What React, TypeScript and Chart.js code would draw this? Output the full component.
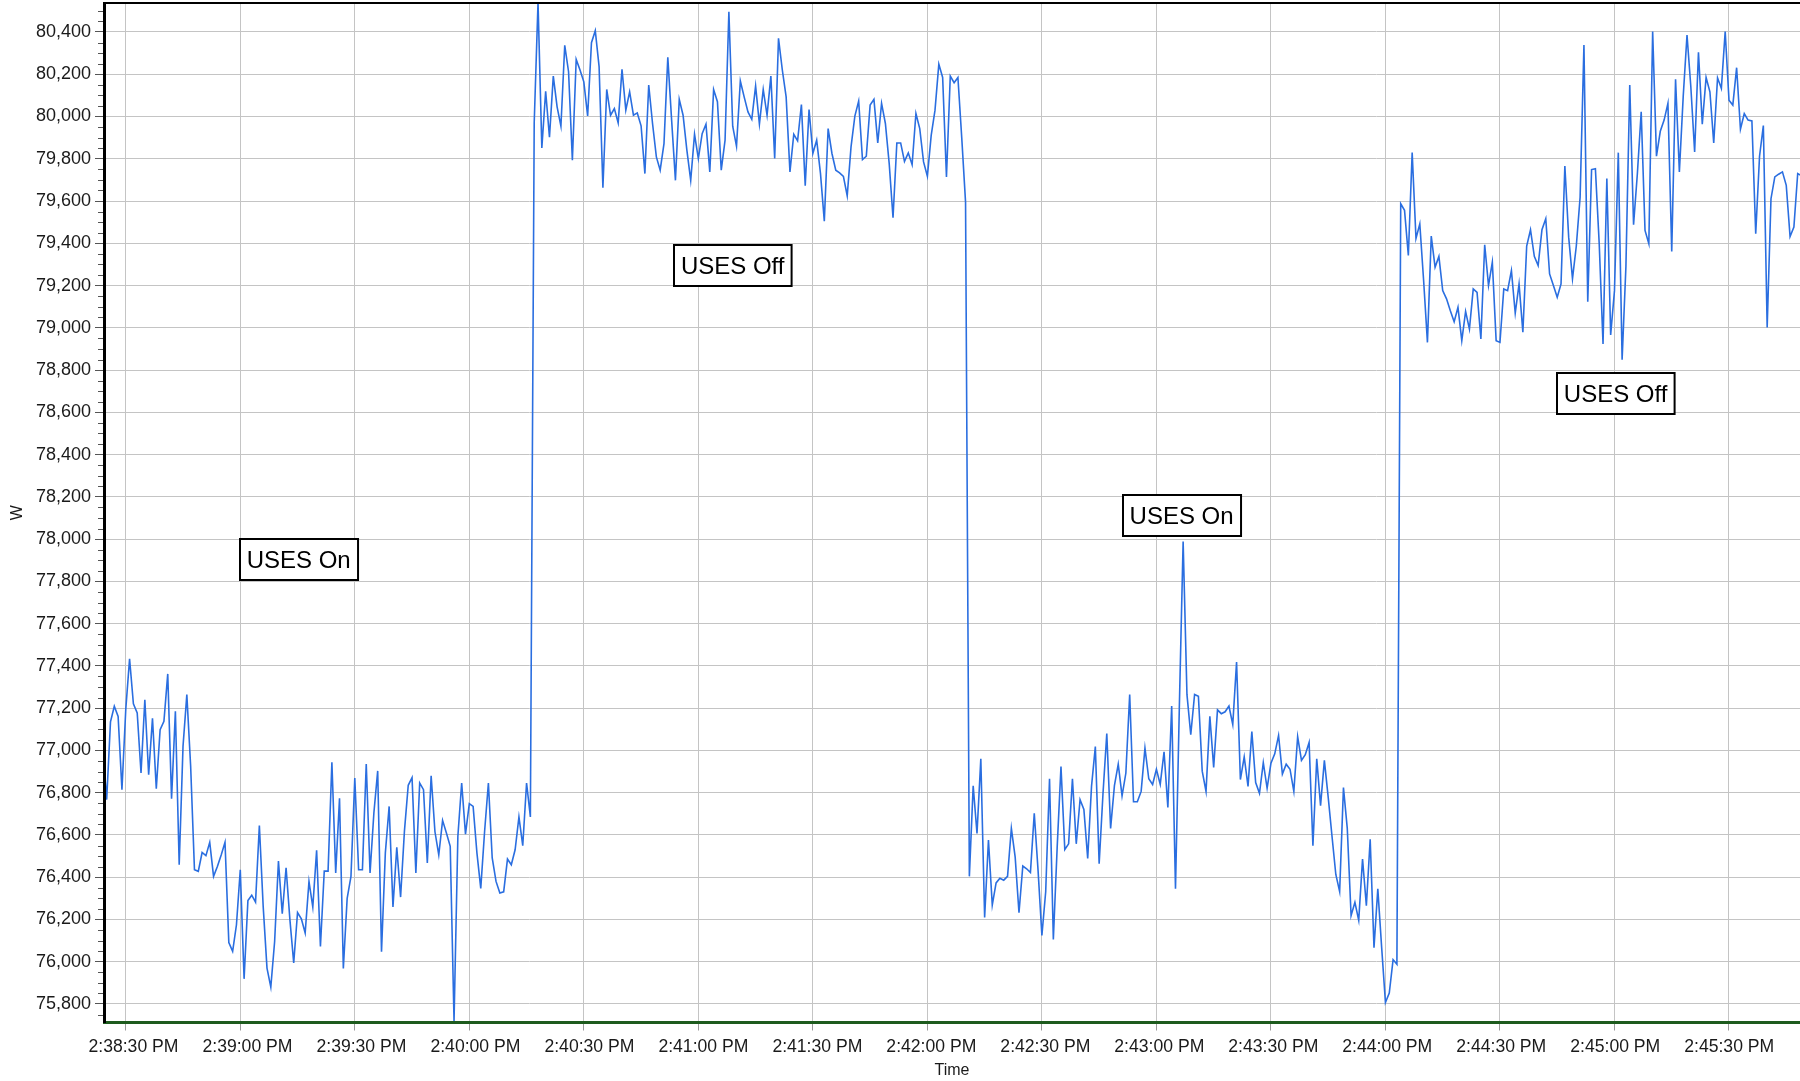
import React, { useEffect, useRef } from "react";
import { Chart, registerables } from "chart.js";

Chart.register(...registerables);

// ---- data -------------------------------------------------------------
// samples are one second apart, the first one at 2:38:24 PM (seconds since midnight)
const startSeconds = 52704;
const sampleStepSeconds = 1;

const powerW: number[] = [
  77000, 76767, 77135, 77209, 77161, 76814, 77193, 77434, 77221, 77177,
  76893, 77240, 76885, 77152, 76819, 77098, 77138, 77362, 76772, 77185,
  76459, 77019, 77264, 76925, 76435, 76428, 76517, 76502, 76565, 76404,
  76451, 76505, 76565, 76091, 76049, 76175, 76435, 75919, 76290, 76315,
  76282, 76645, 76262, 75970, 75880, 76096, 76476, 76227, 76445, 76199,
  75994, 76233, 76203, 76136, 76380, 76259, 76527, 76072, 76429, 76429,
  76944, 76420, 76773, 75968, 76300, 76404, 76869, 76435, 76435, 76936,
  76420, 76704, 76903, 76047, 76514, 76735, 76259, 76541, 76306, 76617,
  76835, 76871, 76420, 76846, 76814, 76467, 76880, 76615, 76506, 76669,
  76609, 76546, 75720, 76593, 76846, 76604, 76748, 76735, 76514, 76347,
  76615, 76846, 76491, 76380, 76325, 76331, 76486, 76459, 76530, 76685,
  76549, 76846, 76685, 79969, 80540, 79851, 80119, 79902, 80191, 80046,
  79954, 80337, 80212, 79793, 80270, 80220, 80164, 80003, 80349, 80406,
  80236, 79663, 80128, 80006, 80038, 79970, 80223, 80030, 80117, 80006,
  80017, 79956, 79730, 80149, 79967, 79809, 79746, 79872, 80280, 79983,
  79698, 80081, 80006, 79840, 79698, 79916, 79801, 79919, 79964, 79738,
  80128, 80070, 79746, 79888, 80496, 79954, 79859, 80168, 80093, 80022,
  79987, 80144, 79964, 80128, 80006, 80191, 79801, 80370, 80220, 80093,
  79738, 79916, 79885, 80057, 79673, 80033, 79825, 79888, 79730, 79505,
  79943, 79825, 79746, 79733, 79717, 79625, 79856, 80002, 80073, 79796,
  79812, 80054, 80081, 79875, 80062, 79967, 79777, 79521, 79875, 79875,
  79788, 79828, 79772, 80014, 79943, 79785, 79717, 79911, 80030, 80248,
  80185, 79714, 80191, 80160, 80185, 79900, 79595, 76404, 76833, 76607,
  76960, 76209, 76576, 76268, 76373, 76395, 76386, 76404, 76631, 76495,
  76232, 76453, 76440, 76422, 76703, 76431, 76124, 76332, 76866, 76105,
  76540, 76924, 76531, 76558, 76866, 76558, 76767, 76721, 76489, 76830,
  77018, 76464, 76794, 77080, 76631, 76833, 76935, 76785, 76893, 77265,
  76757, 76757, 76806, 77011, 76866, 76839, 76911, 76839, 76993, 76730,
  77210, 76345, 77200, 77989, 77265, 77074, 77265, 77256, 76902, 76806,
  77161, 76920, 77192, 77174, 77183, 77210, 77123, 77418, 76862, 76969,
  76830, 77089, 76848, 76797, 76942, 76821, 76939, 76984, 77071, 76888,
  76935, 76911, 76806, 77065, 76953, 76980, 77038, 76549, 76960, 76739,
  76953, 76779, 76594, 76413, 76332, 76824, 76631, 76218, 76281, 76196,
  76486, 76265, 76580, 76066, 76345, 76069, 75807, 75852, 76010, 75988,
  79587, 79556, 79342, 79829, 79423, 79492, 79224, 78931, 79434, 79287,
  79338, 79176, 79137, 79081, 79029, 79097, 78939, 79078, 78994, 79184,
  79168, 78947, 79393, 79200, 79311, 78939, 78931, 79184, 79176, 79271,
  79069, 79208, 78979, 79387, 79464, 79338, 79295, 79464, 79516, 79255,
  79200, 79145, 79208, 79766, 79429, 79232, 79387, 79619, 80338, 79124,
  79749, 79753, 79398, 78923, 79706, 78966, 79176, 79829, 78849, 79292,
  80149, 79488, 79730, 80022, 79461, 79398, 80402, 79812, 79930, 79983,
  80062, 79361, 80176, 79738, 80093, 80386, 80141, 79832, 80304, 79964,
  80185, 80117, 79875, 80183, 80133, 80402, 80077, 80054, 80231, 79940,
  80014, 79983, 79979, 79445, 79812, 79957, 79002, 79611, 79714, 79727,
  79738, 79674, 79432, 79477, 79730, 79720,
];

// axis ticks
const xTickSeconds = [
  52710, 52740, 52770, 52800, 52830, 52860, 52890, 52920,
  52950, 52980, 53010, 53040, 53070, 53100, 53130,
];
const yTickValues = [
  75800, 76000, 76200, 76400, 76600, 76800, 77000, 77200, 77400, 77600,
  77800, 78000, 78200, 78400, 78600, 78800, 79000, 79200, 79400, 79600,
  79800, 80000, 80200, 80400,
];
const yMinorStep = 50;

// visible window (grid axis) and the slightly different window the source used for its time labels
const xMin = 52704.3;
const xMax = 53148.6;
const xLabelMin = 52702.24;
const xLabelMax = 53148.63;
const yMin = 75712.4;
const yMax = 80537.2;

// annotation labels (anchored in data coordinates: time, watts)
const noteTexts = ["USES On", "USES Off", "USES On", "USES Off"];
const noteTimes = [52755.3, 52869.0, 52986.6, 53100.3];
const noteValues = [77904, 79296, 78110, 78690];

// ---- styling ------------------------------------------------------------
const FONT = '"Liberation Sans", Arial, Helvetica, sans-serif';
const LINE_COLOR = "#2a6ee0";
const GRID_COLOR = "#c4c4c4";
const TEXT_COLOR = "#1a1a1a";

function pad2(n: number) {
  return n < 10 ? "0" + n : String(n);
}
function formatClock(sec: number) {
  const s = Math.round(sec);
  const h24 = Math.floor(s / 3600);
  const m = Math.floor((s % 3600) / 60);
  const ss = s % 60;
  const h12 = h24 % 12 === 0 ? 12 : h24 % 12;
  return `${h12}:${pad2(m)}:${pad2(ss)} ${h24 >= 12 ? "PM" : "AM"}`;
}

const decorPlugin = {
  id: "decor",
  afterDraw(chart: any) {
    const { ctx, chartArea } = chart;
    const xs = chart.scales.x;
    const ys = chart.scales.y;
    ctx.save();
    // minor ticks on the value axis
    ctx.strokeStyle = "#555555";
    ctx.lineWidth = 1;
    const first = Math.ceil(yMin / yMinorStep) * yMinorStep;
    for (let v = first; v <= yMax; v += yMinorStep) {
      if (v % 200 === 0) continue;
      const py = Math.round(ys.getPixelForValue(v)) + 0.5;
      ctx.beginPath();
      ctx.moveTo(chartArea.left - 6, py);
      ctx.lineTo(chartArea.left - 1, py);
      ctx.stroke();
    }
    // top frame line
    ctx.strokeStyle = "#000000";
    ctx.lineWidth = 2;
    ctx.beginPath();
    ctx.moveTo(chartArea.left, chartArea.top);
    ctx.lineTo(chartArea.right, chartArea.top);
    ctx.stroke();

    // annotation boxes
    ctx.font = `24px ${FONT}`;
    ctx.textAlign = "center";
    ctx.textBaseline = "alphabetic";
    for (let i = 0; i < noteTexts.length; i++) {
      const cx = xs.getPixelForValue(noteTimes[i]);
      const cy = ys.getPixelForValue(noteValues[i]);
      const w = ctx.measureText(noteTexts[i]).width + 14;
      const h = 41;
      const x0 = Math.round(cx - w / 2);
      const y0 = Math.round(cy - h / 2);
      ctx.fillStyle = "#ffffff";
      ctx.fillRect(x0, y0, w, h);
      ctx.strokeStyle = "#000000";
      ctx.lineWidth = 2;
      ctx.strokeRect(x0, y0, w, h);
      ctx.fillStyle = "#000000";
      ctx.fillText(noteTexts[i], cx, cy + 8.6);
    }
    ctx.restore();
  },
};

export default function App() {
  const canvasRef = useRef<HTMLCanvasElement>(null);

  useEffect(() => {
    const canvas = canvasRef.current;
    if (!canvas) return;
    const points = powerW.map((v, i) => ({ x: startSeconds + i * sampleStepSeconds, y: v }));
    const chart = new Chart(canvas, {
      type: "line",
      data: {
        datasets: [
          {
            label: "W",
            data: points,
            xAxisID: "x",
            yAxisID: "y",
            borderColor: LINE_COLOR,
            borderWidth: 1.6,
            pointRadius: 0,
            tension: 0,
            fill: false,
          },
        ],
      },
      options: {
        responsive: false,
        animation: false,
        devicePixelRatio: 1,
        parsing: false as any,
        normalized: true,
        layout: { padding: { top: 3, left: 0, right: 0, bottom: 0 } },
        plugins: {
          legend: { display: false },
          tooltip: { enabled: false },
          title: { display: false },
        },
        scales: {
          // time axis: grid lines, tick marks and the axis line
          x: {
            type: "linear",
            position: "bottom",
            weight: 0,
            min: xMin,
            max: xMax,
            afterBuildTicks: (scale: any) => {
              scale.ticks = xTickSeconds.map((v) => ({ value: v }));
            },
            afterFit: (scale: any) => {
              scale.height = 0;
              scale.paddingLeft = 0;
              scale.paddingRight = 0;
            },
            ticks: { display: false, autoSkip: false, maxRotation: 0 },
            grid: {
              color: GRID_COLOR,
              lineWidth: 1,
              drawTicks: true,
              tickLength: 8,
              tickColor: "#9a9a9a",
            },
            border: { display: true, color: "#1e5b1e", width: 3, z: 1 },
            title: { display: false },
          },
          // time axis: labels and title
          xLabels: {
            type: "linear",
            position: "bottom",
            weight: 1,
            min: xLabelMin,
            max: xLabelMax,
            afterBuildTicks: (scale: any) => {
              scale.ticks = xTickSeconds.map((v) => ({ value: v }));
            },
            afterFit: (scale: any) => {
              scale.height = 1081 - 1022.5;
              scale.paddingLeft = 0;
              scale.paddingRight = 0;
            },
            ticks: {
              autoSkip: false,
              maxRotation: 0,
              minRotation: 0,
              padding: 14,
              color: TEXT_COLOR,
              font: { family: FONT, size: 17.6 },
              callback: (v: any) => formatClock(Number(v)),
            },
            grid: { display: false, drawTicks: false },
            border: { display: false },
            title: {
              display: true,
              text: "Time",
              color: TEXT_COLOR,
              font: { family: FONT, size: 16 },
              padding: { top: 0, bottom: 1 },
            },
          },
          y: {
            type: "linear",
            min: yMin,
            max: yMax,
            afterBuildTicks: (scale: any) => {
              scale.ticks = yTickValues.map((v) => ({ value: v }));
            },
            afterFit: (scale: any) => {
              scale.width = 104;
              scale.paddingTop = 0;
              scale.paddingBottom = 0;
            },
            ticks: {
              autoSkip: false,
              padding: 4,
              color: TEXT_COLOR,
              font: { family: FONT, size: 18 },
              callback: (v: any) => Number(v).toLocaleString("en-US"),
            },
            grid: {
              color: GRID_COLOR,
              lineWidth: 1,
              drawTicks: true,
              tickLength: 9,
              tickColor: "#555555",
            },
            border: { display: true, color: "#000000", width: 3, z: 1 },
            title: {
              display: true,
              text: "W",
              color: TEXT_COLOR,
              font: { family: FONT, size: 16 },
              padding: { top: 7.6, bottom: 0 },
            },
          },
        },
      },
      plugins: [decorPlugin],
    } as any);
    return () => chart.destroy();
  }, []);

  return (
    <div style={{ position: "fixed", left: 0, top: 0, width: 1800, height: 1081, background: "#ffffff" }}>
      <canvas ref={canvasRef} width={1800} height={1081} style={{ display: "block", width: 1800, height: 1081 }} />
    </div>
  );
}
